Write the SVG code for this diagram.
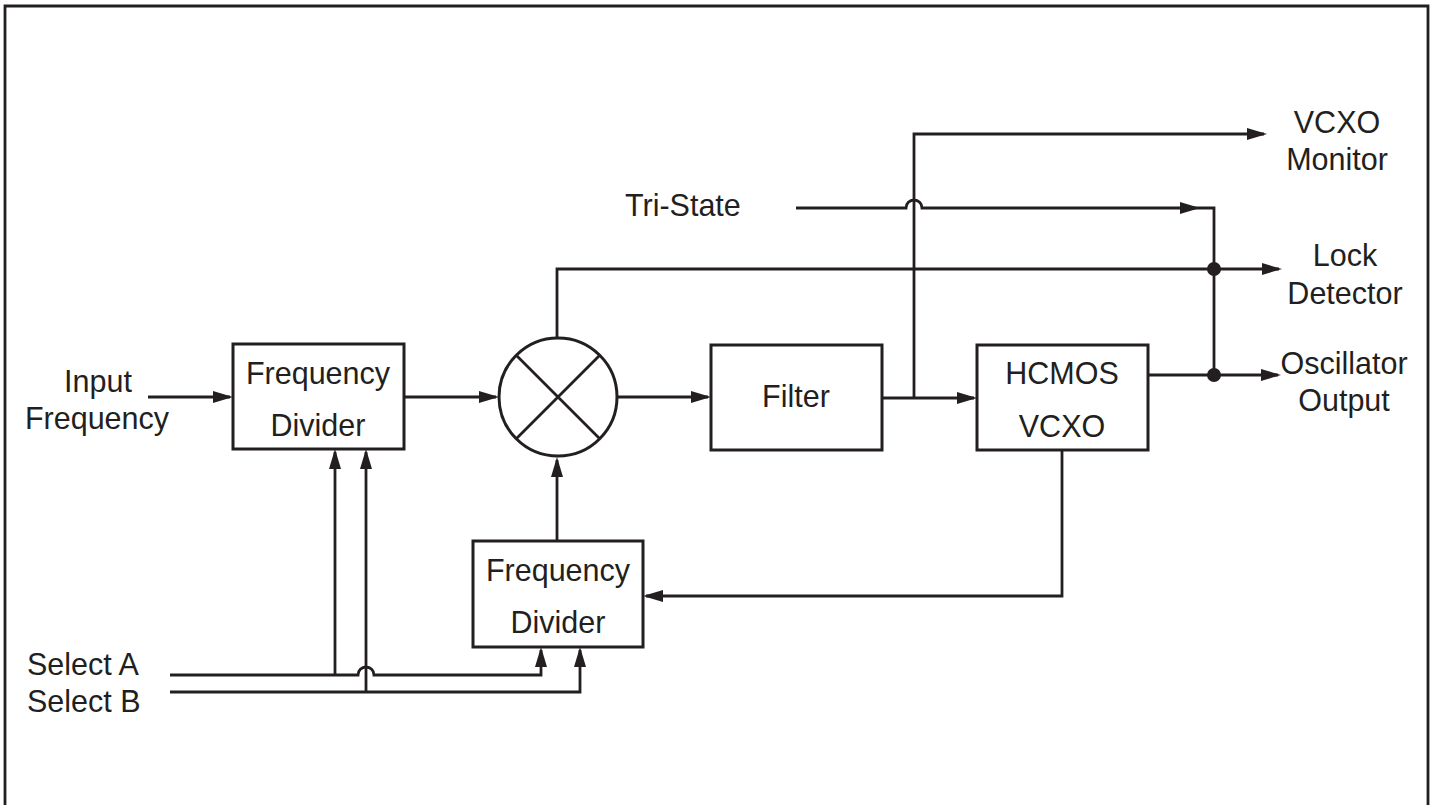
<svg xmlns="http://www.w3.org/2000/svg" width="1434" height="805" viewBox="0 0 1434 805">
<style>
.ln{fill:none;stroke:#231f20;stroke-width:2.8;stroke-linejoin:miter}
.bx{fill:#fff;stroke:#231f20;stroke-width:3}
.t{font-family:"Liberation Sans",Arial,Helvetica,sans-serif;font-size:30.5px;fill:#231f20}
.c{text-anchor:middle}
.dot{fill:#231f20}
</style>
<defs>
<marker id="ah" markerUnits="userSpaceOnUse" viewBox="0 0 20 12" refX="17" refY="6" markerWidth="20" markerHeight="12" orient="auto">
<path d="M0,0 L20,6 L0,12 z" fill="#231f20"/>
</marker>
</defs>
<rect width="1434" height="805" fill="#fff"/>
<path class="ln" d="M5,805 V6 H1428 V805" stroke-width="3"/>

<g id="connectors">
<path class="ln" d="M148,397 H230" marker-end="url(#ah)"/>
<path class="ln" d="M404,397 H496" marker-end="url(#ah)"/>
<path class="ln" d="M617,397 H708" marker-end="url(#ah)"/>
<path class="ln" d="M882,398 H974" marker-end="url(#ah)"/>
<path class="ln" d="M914,398 V134 H1264" marker-end="url(#ah)"/>
<path class="ln" d="M557,338 V269 H1279" marker-end="url(#ah)"/>
<path class="ln" d="M1148,375 H1278" marker-end="url(#ah)"/>
<path class="ln" d="M796,208 H906 A8,8 0 0 1 922,208 H1214 V375"/>
<polygon points="1180,202 1200,208 1180,214" fill="#231f20"/>
<circle class="dot" cx="1214" cy="269" r="7"/>
<circle class="dot" cx="1214" cy="375" r="7"/>
<path class="ln" d="M1062,450 V596 H646" marker-end="url(#ah)"/>
<path class="ln" d="M557,541 V460" marker-end="url(#ah)"/>
<path class="ln" d="M170,675 H358 A8,8 0 0 1 374,675 H541 V650" marker-end="url(#ah)"/>
<path class="ln" d="M335,675 V452" marker-end="url(#ah)"/>
<path class="ln" d="M170,692 H580 V650" marker-end="url(#ah)"/>
<path class="ln" d="M366,692 V452" marker-end="url(#ah)"/>
</g>

<g id="fd1">
<rect class="bx" x="233" y="344" width="171" height="105"/>
<text class="t c" x="318" y="384">Frequency</text>
<text class="t c" x="318" y="436">Divider</text>
</g>
<g id="mixer">
<circle cx="558" cy="397" r="59" fill="#fff" stroke="#231f20" stroke-width="3"/>
<path class="ln" d="M516,355 L600,439 M600,355 L516,439"/>
</g>
<g id="filter">
<rect class="bx" x="711" y="345" width="171" height="105"/>
<text class="t c" x="796" y="407">Filter</text>
</g>
<g id="vcxo">
<rect class="bx" x="977" y="345" width="171" height="105"/>
<text class="t c" x="1062" y="384">HCMOS</text>
<text class="t c" x="1062" y="437">VCXO</text>
</g>
<g id="fd2">
<rect class="bx" x="473" y="541" width="170" height="106"/>
<text class="t c" x="558" y="581">Frequency</text>
<text class="t c" x="558" y="633">Divider</text>
</g>

<g id="labels">
<text class="t c" x="98" y="392">Input</text>
<text class="t c" x="97" y="429">Frequency</text>
<text class="t" x="27" y="675">Select A</text>
<text class="t" x="27" y="712">Select B</text>
<text class="t" x="625" y="216">Tri-State</text>
<text class="t c" x="1337" y="133">VCXO</text>
<text class="t c" x="1337" y="170">Monitor</text>
<text class="t c" x="1345" y="266">Lock</text>
<text class="t c" x="1345" y="304">Detector</text>
<text class="t c" x="1344" y="374">Oscillator</text>
<text class="t c" x="1344" y="411">Output</text>
</g>
</svg>
